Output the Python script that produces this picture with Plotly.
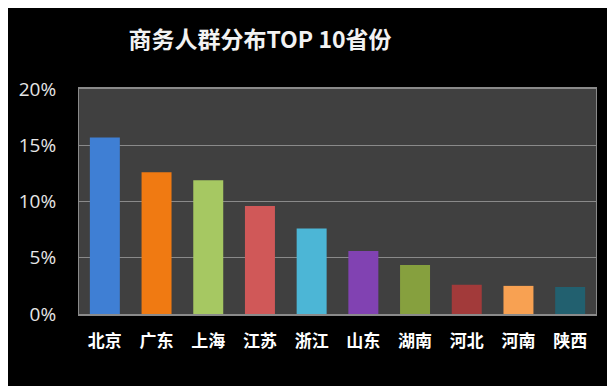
import plotly.graph_objects as go

provinces = ["北京", "广东", "上海", "江苏", "浙江", "山东", "湖南", "河北", "河南", "陕西"]
shares = [15.7, 12.6, 11.9, 9.6, 7.6, 5.6, 4.35, 2.6, 2.5, 2.4]
colors = ["#3f7fd4", "#f07a12", "#a6c862", "#d05858", "#4cb6d6",
          "#8142b2", "#86a03e", "#a23a3a", "#f8a152", "#22606f"]
y_ticks = [0, 5, 10, 15, 20]
y_tick_text = ["0%", "5%", "10%", "15%", "20%"]

fig = go.Figure(go.Bar(
    x=provinces, y=shares,
    marker=dict(color=colors, line=dict(width=0)),
))

fig.update_layout(
    width=615, height=386,
    margin=dict(l=71, r=27, t=81, b=80, autoexpand=False),
    paper_bgcolor="#000000",
    plot_bgcolor="#404040",
    bargap=0.42,
    showlegend=False,
    title=dict(text="<b>商务人群分布TOP 10省份</b>", x=252/615, xanchor="center",
               y=1 - 32/386, yanchor="middle",
               font=dict(family="Noto Sans CJK SC", size=23, color="#f2f2f2")),
    font=dict(family="Noto Sans CJK SC"),
)
fig.update_yaxes(range=[0, 20], tickvals=y_ticks, ticktext=y_tick_text,
                 showgrid=True, gridcolor="#8a8a8a", gridwidth=1, automargin=False,
                 zeroline=False, showline=True, linecolor="#8a8a8a", linewidth=1,
                 mirror=True, ticks="outside", ticklen=18, tickcolor="rgba(0,0,0,0)",
                 tickfont=dict(family="Open Sans", size=19, color="#e6e6e6"))
fig.update_xaxes(showline=True, linecolor="#8a8a8a", linewidth=2, mirror=True, automargin=False,
                 ticks="outside", ticklen=11, tickcolor="rgba(0,0,0,0)",
                 tickfont=dict(family="Noto Sans CJK SC", size=17, color="#ffffff", weight="bold"))

fig.write_html("out.html")
